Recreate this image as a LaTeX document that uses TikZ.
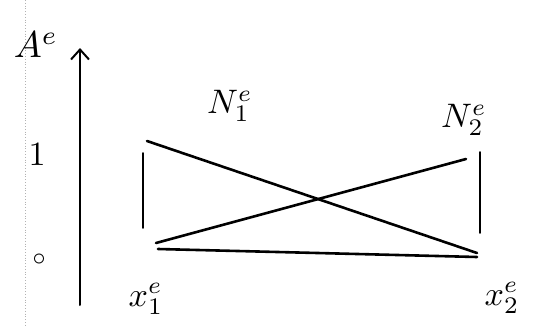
\documentclass[tikz,border=0pt]{standalone}
\usetikzlibrary{arrows.meta}
\begin{document}
\begin{tikzpicture}[x=1pt,y=-1pt,
  stroke/.style={line width=2.6pt,line cap=round},
  thinstroke/.style={line width=1.6pt,line cap=round},
  lbl/.style={inner sep=0pt,scale=3.4}]
\useasboundingbox (0,0) rectangle (542,325);
\fill[white] (0,0) rectangle (542,325);
% faint scan margin line
\draw[gray!60,dotted,line width=0.8pt] (25,0) -- (25,325);
% axis
\coordinate (ab) at (80,305);
\coordinate (at) at (80,48);
\draw[line width=2pt,line cap=round,-{Straight Barb[length=10pt,width=18pt,line width=2pt]}] (ab) -- (at);
\node[lbl,scale=1.1] (A) at (36,45) {$A^e$};
\node[lbl] (one) at (37,155) {$1$};
\node[inner sep=0pt,scale=2.6] (zero) at (39,260) {$\circ$};
% element points
\coordinate (tl) at (147,141);
\coordinate (bl) at (156,243);
\coordinate (tr) at (466,159);
\coordinate (br) at (477,253);
\coordinate (bl2) at (158,249);
\coordinate (br2) at (477,257);
% vertical guides
\draw[thinstroke] (143,153) -- (143,228);
\draw[thinstroke] (480,152) -- (480,233);
% shape functions
\draw[stroke] (tl) -- (br);
\draw[stroke] (bl) -- (tr);
\draw[stroke] (bl2) -- (br2);
% labels
\node[lbl] (N1) at (230,106) {$N_1^e$};
\node[lbl] (N2) at (464,120) {$N_2^e$};
\node[lbl] (x1) at (146,299) {$x_1^e$};
\node[lbl] (x2) at (502,298) {$x_2^e$};
\end{tikzpicture}
\end{document}
